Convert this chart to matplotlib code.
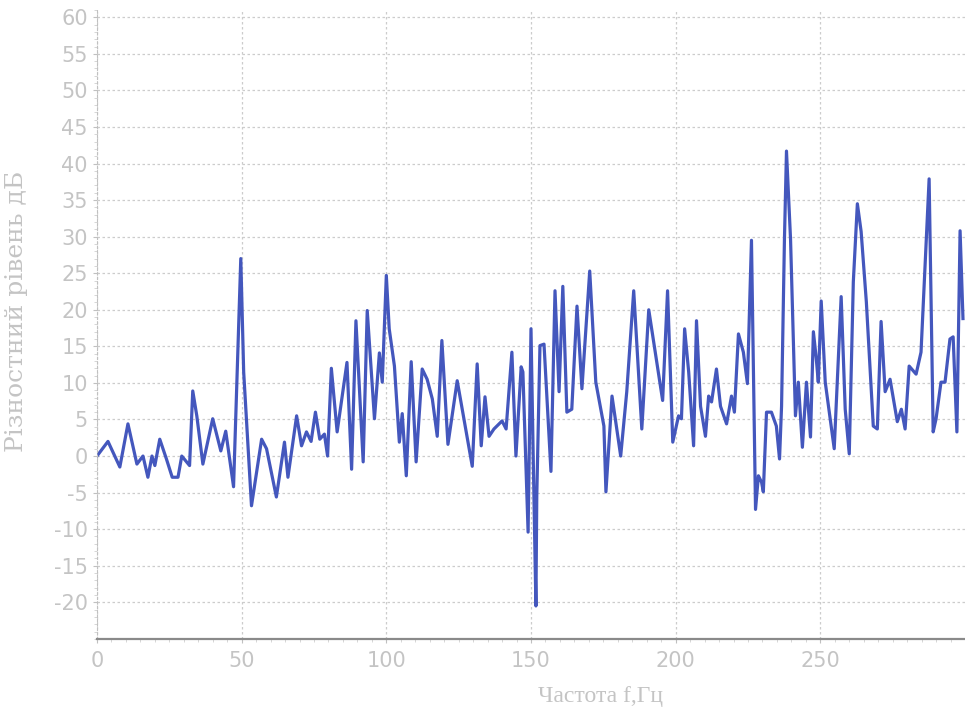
import matplotlib
matplotlib.use("Agg")
import matplotlib.pyplot as plt
from matplotlib.ticker import MultipleLocator

# frequency, Hz
freq = [0, 3.8, 7.9, 10.7, 13.8, 15.9, 17.6, 19, 20, 21.7, 24, 26, 28, 29.3, 32,
        33.1, 34.5, 36.6, 40, 42.8, 44.5, 47.2, 49.7, 50.7, 53.4, 56.9, 58.6, 62,
        64.8, 66, 69, 70.7, 72.4, 74, 75.5, 77, 78.6, 79.7, 81, 83, 86.4, 88, 89.5,
        92, 93.4, 95.9, 97.6, 98.6, 100, 101, 102.8, 104.5, 105.5, 106.9, 108.6,
        110.3, 112.4, 114.1, 115.9, 117.6, 119.2, 121.3, 124.5, 129.7, 131.4,
        132.8, 134.1, 135.5, 137.2, 140, 141.4, 143.4, 144.8, 146.6, 147.2, 149,
        150, 150.7, 151.7, 152, 153.1, 154.5, 156.9, 158.3, 159.7, 161, 162.4,
        164.1, 165.9, 167.6, 170.3, 172.4, 175.2, 175.9, 178, 181, 183.1, 185.5,
        188.3, 190.7, 195.5, 197.2, 199, 201, 202, 203.1, 204.5, 206.2, 207.2,
        208.6, 210.3, 211.4, 212.4, 214.1, 215.5, 217.6, 219.3, 220.3, 221.7,
        223.4, 224.8, 226.2, 226.9, 227.6, 228.6, 229.7, 230.3, 231.4, 233.1,
        234.8, 235.9, 236.6, 237.6, 238.3, 239.7, 240.7, 241.4, 242.4, 243.8,
        245.2, 246.6, 247.6, 248.6, 249.3, 250.3, 251.7, 254.8, 257.2, 258.6,
        260, 261.4, 262.8, 264.1, 265.9, 268.3, 269.7, 271, 272.4, 274.1, 276.6,
        278, 279.3, 280.7, 283.1, 284.8, 287.6, 289, 290, 291.7, 293.1, 294.8,
        295.9, 297.2, 298.3, 299.3]

# difference level, dB
level = [0, 2, -1.5, 4.4, -1.1, 0, -2.9, 0, -1.3, 2.3, -0.4, -2.9, -2.9, 0, -1.3,
         8.9, 5.5, -1.1, 5.1, 0.7, 3.4, -4.2, 27, 11.5, -6.8, 2.3, 1, -5.6,
         1.9, -2.9, 5.5, 1.4, 3.3, 2, 6, 2.3, 3, 0, 12, 3.3, 12.8, -1.8, 18.5,
         -0.8, 19.9, 5.1, 14.1, 10.1, 24.7, 17.4, 12.3, 1.9, 5.8, -2.7, 12.9,
         -0.8, 11.9, 10.5, 7.8, 2.7, 15.8, 1.6, 10.3, -1.4, 12.6,
         1.4, 8.1, 2.7, 3.7, 4.8, 3.7, 14.2, 0, 12.2, 11.5, -10.4,
         17.4, 1.4, -20.5, -5.5, 15.1, 15.3, -2.1, 22.6, 8.8, 23.2, 6,
         6.4, 20.5, 9.2, 25.3, 10.1, 4.1, -4.9, 8.2, 0, 8.8, 22.6,
         3.7, 20, 7.6, 22.6, 1.9, 5.5, 5.1, 17.4, 11.5, 1.4, 18.5,
         6.8, 2.7, 8.2, 7.4, 11.9, 6.8, 4.4, 8.2, 6, 16.7,
         14.2, 9.9, 29.5, 11.5, -7.3, -2.7, -3.6, -4.9, 6, 6,
         4.1, -0.4, 6.8, 29.7, 41.7, 29.7, 15.5, 5.5, 10.1, 1.2,
         10.1, 2.6, 17, 13.3, 10.1, 21.2, 10.1, 1, 21.8, 6.4,
         0.3, 23.8, 34.5, 30.7, 21.1, 4.1, 3.7, 18.4, 8.8, 10.5, 4.7,
         6.4, 3.7, 12.3, 11.2, 14.2, 37.9, 3.3, 5.1, 10.1, 10.1, 16,
         16.3, 3.3, 30.8, 18.8]

x_ticks = [0, 50, 100, 150, 200, 250]
y_ticks = list(range(-20, 61, 5))

text_color = "#c4c4c4"
plt.rcParams["axes.unicode_minus"] = False

fig = plt.figure(figsize=(9.65, 7.13), dpi=100)
ax = fig.add_axes([0.1005, 0.104, 0.8995, 0.882])

ax.plot(freq, level, color="#4457bd", linewidth=2.3, solid_joinstyle="round")

ax.set_xlim(0, 300)
ax.set_ylim(-25, 61)
ax.set_xticks(x_ticks)
ax.set_yticks(y_ticks)
ax.xaxis.set_minor_locator(MultipleLocator(5))
ax.yaxis.set_minor_locator(MultipleLocator(1))

ax.grid(True, which="major", color="#cccccc", linestyle=(0, (2, 2)), linewidth=0.9)

for side in ["top", "right"]:
    ax.spines[side].set_visible(False)
ax.spines["left"].set_color("#c0c0c0")
ax.spines["left"].set_linestyle((0, (2, 2)))
ax.spines["bottom"].set_color("#8a8a8a")
ax.spines["bottom"].set_linewidth(1.6)

ax.tick_params(axis="both", which="major", labelsize=15, labelcolor=text_color,
               color="#c0c0c0", length=3)
ax.tick_params(axis="both", which="minor", color="#d0d0d0", length=2)
ax.tick_params(axis="x", pad=6)

ax.set_xlabel("Частота f,Гц", fontsize=17, color=text_color,
              family="Liberation Serif")
ax.xaxis.set_label_coords(0.58, -0.075)
ax.set_ylabel("Різностний рівень дБ", fontsize=18, color=text_color,
              family="DejaVu Serif")
ax.yaxis.set_label_coords(-0.08, 0.52)

fig.savefig("out.png", dpi=100)
